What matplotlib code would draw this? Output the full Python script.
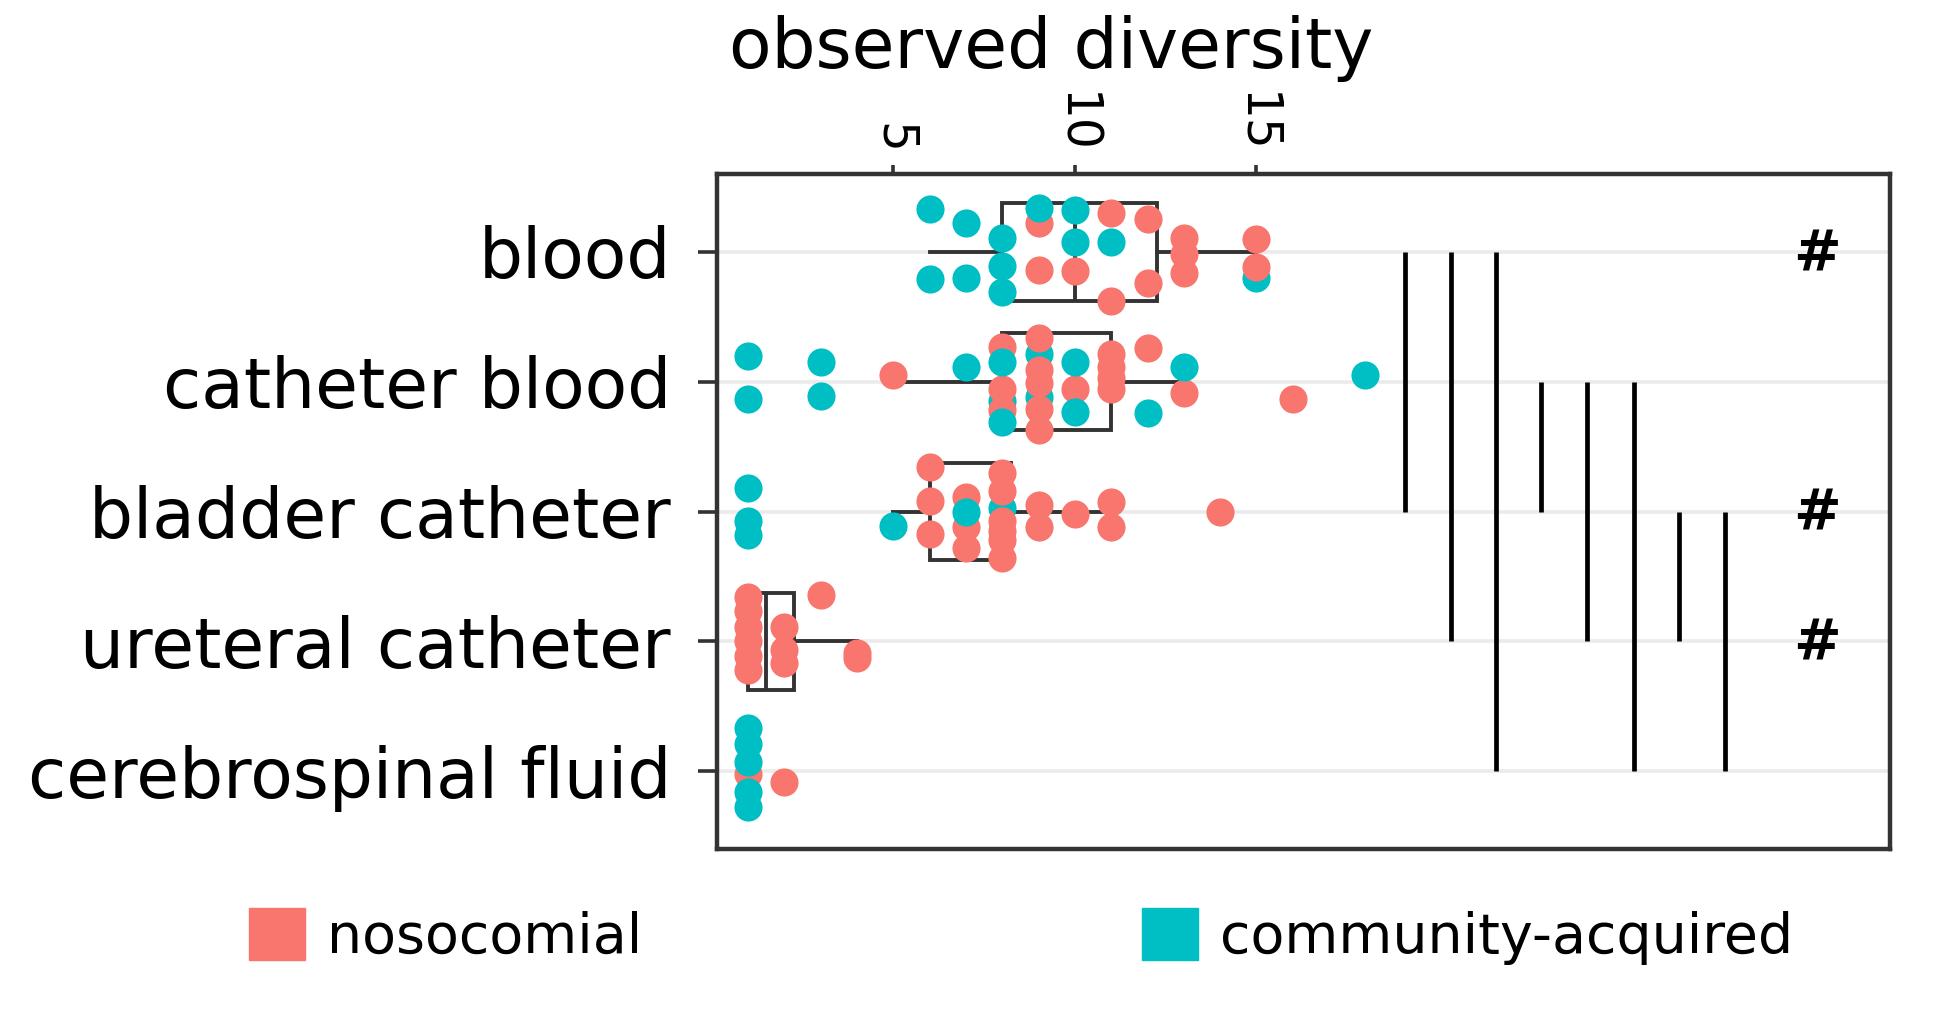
import numpy as np
import matplotlib.pyplot as plt
from matplotlib.patches import Patch

categories = ["blood", "catheter blood", "bladder catheter",
              "ureteral catheter", "cerebrospinal fluid"]

# observed diversity of each sample (x) and where the dot sits inside its row (dy, row units)
blood_noso = [9, 9, 10, 11, 11, 12, 12, 13, 13, 13, 15, 15]
blood_noso_dy = [-0.22, 0.14, 0.15, -0.30, 0.38, -0.25, 0.24, -0.11, 0.02, 0.16, -0.10, 0.12]
blood_comm = [6, 6, 7, 7, 8, 8, 8, 9, 10, 10, 11, 15]
blood_comm_dy = [-0.33, 0.21, -0.22, 0.20, -0.11, 0.11, 0.31, -0.34, -0.32, -0.08, -0.08, 0.20]

cath_noso = [5, 8, 8, 8, 9, 9, 9, 9, 9, 10, 11, 11, 11, 11, 12, 13, 16]
cath_noso_dy = [-0.05, -0.27, 0.06, 0.22, -0.34, -0.09, 0.01, 0.21, 0.37, 0.06,
                -0.21, -0.11, -0.03, 0.06, -0.26, 0.09, 0.13]
cath_comm = [1, 1, 3, 3, 7, 8, 8, 8, 9, 9, 10, 10, 12, 13, 18]
cath_comm_dy = [-0.20, 0.13, -0.15, 0.11, -0.11, -0.15, 0.15, 0.31, -0.21, 0.12,
                -0.15, 0.23, 0.24, -0.11, -0.05]

bladder_noso = [6, 6, 6, 7, 7, 7, 8, 8, 8, 8, 8, 8, 9, 9, 10, 11, 11, 14]
bladder_noso_dy = [-0.34, -0.08, 0.17, -0.11, 0.12, 0.28, -0.30, -0.16, 0.07, 0.15,
                   0.22, 0.36, -0.05, 0.12, 0.02, -0.07, 0.12, 0.0]
bladder_comm = [1, 1, 1, 5, 7, 8]
bladder_comm_dy = [-0.18, 0.07, 0.18, 0.11, 0.0, -0.03]

ureter_noso = [1, 1, 1, 1, 1, 1, 2, 2, 2, 3, 4, 4]
ureter_noso_dy = [-0.34, -0.23, -0.11, 0.0, 0.11, 0.22, -0.11, 0.07, 0.17, -0.36, 0.09, 0.13]
ureter_comm = []
ureter_comm_dy = []

csf_noso = [1, 2]
csf_noso_dy = [0.02, 0.08]
csf_comm = [1, 1, 1, 1, 1]
csf_comm_dy = [-0.33, -0.21, -0.07, 0.16, 0.28]

# community dots that lie under the nosocomial ones (index into *_comm)
comm_under = {1: [6, 8, 9], 0: [11], 2: [5]}

# pairwise comparisons: bar x position, from row, to row
sig_x = [19.1, 20.35, 21.6, 22.85, 24.1, 25.4, 26.65, 27.9]
sig_from = [0, 0, 0, 1, 1, 1, 2, 2]
sig_to = [2, 3, 4, 2, 3, 4, 3, 4]
hash_rows = [0, 2, 3]

noso = [blood_noso, cath_noso, bladder_noso, ureter_noso, csf_noso]
noso_dy = [blood_noso_dy, cath_noso_dy, bladder_noso_dy, ureter_noso_dy, csf_noso_dy]
comm = [blood_comm, cath_comm, bladder_comm, ureter_comm, csf_comm]
comm_dy = [blood_comm_dy, cath_comm_dy, bladder_comm_dy, ureter_comm_dy, csf_comm_dy]

c_noso = "#F8766D"
c_comm = "#00BFC4"
dark = "#333333"

fig = plt.figure(figsize=(19.53, 10.26), dpi=100)
ax = fig.add_axes([0.3671, 0.1725, 0.6006, 0.6579])

# boxplots over both groups together
box_data = [np.array(noso[i] + comm[i], dtype=float) for i in range(len(categories))]
ax.boxplot(box_data, positions=range(len(categories)), orientation="horizontal",
           widths=0.75, showfliers=False, showcaps=False, patch_artist=True,
           boxprops=dict(facecolor="white", edgecolor=dark, linewidth=2.8),
           whiskerprops=dict(color=dark, linewidth=2.8),
           medianprops=dict(color=dark, linewidth=2.8),
           zorder=2)

dot_size = 410
for i in range(len(categories)):
    cv = np.array(comm[i], dtype=float)
    cy = i + np.array(comm_dy[i], dtype=float)
    under = np.zeros(len(cv), dtype=bool)
    under[comm_under.get(i, [])] = True
    if len(cv):
        ax.scatter(cv[under], cy[under], s=dot_size, color=c_comm, lw=0, zorder=3)
    nv = np.array(noso[i], dtype=float)
    ny = i + np.array(noso_dy[i], dtype=float)
    ax.scatter(nv, ny, s=dot_size, color=c_noso, lw=0, zorder=4)
    if len(cv):
        ax.scatter(cv[~under], cy[~under], s=dot_size, color=c_comm, lw=0, zorder=5)

ax.vlines(sig_x, sig_from, sig_to, color="black", lw=3.4, zorder=3)
for r in hash_rows:
    ax.text(30.45, r + 0.03, "#", fontsize=41, fontweight="bold", ha="center", va="center")

ax.set_xlim(0.14, 32.45)
ax.set_ylim(4.6, -0.6)
ax.set_yticks(range(len(categories)))
ax.set_yticklabels(categories)
ax.yaxis.grid(True, color="#EBEBEB", lw=2.6)
ax.set_axisbelow(True)

ax.xaxis.tick_top()
ax.set_xticks([5, 10, 15])
ax.tick_params(axis="x", labelsize=35, length=6.5, width=2.6, color=dark,
               pad=8, labelrotation=-90)
ax.tick_params(axis="y", labelsize=50, length=14, width=2.6, color=dark, pad=19)
for sp in ax.spines.values():
    sp.set_color(dark)
    sp.set_linewidth(3.2)

fig.text(0.538, 0.934, "observed diversity", ha="center", va="baseline", fontsize=50)

handles = [Patch(color=c_noso, label="nosocomial"),
           Patch(color=c_comm, label="community-acquired")]
fig.legend(handles=handles, loc="center", bbox_to_anchor=(0.523, 0.087), ncol=2,
           frameon=False, fontsize=40, handlelength=1.0, handleheight=1.05,
           handletextpad=0.4, columnspacing=9.0, borderpad=0, borderaxespad=0)

fig.savefig("out.png", dpi=100)
